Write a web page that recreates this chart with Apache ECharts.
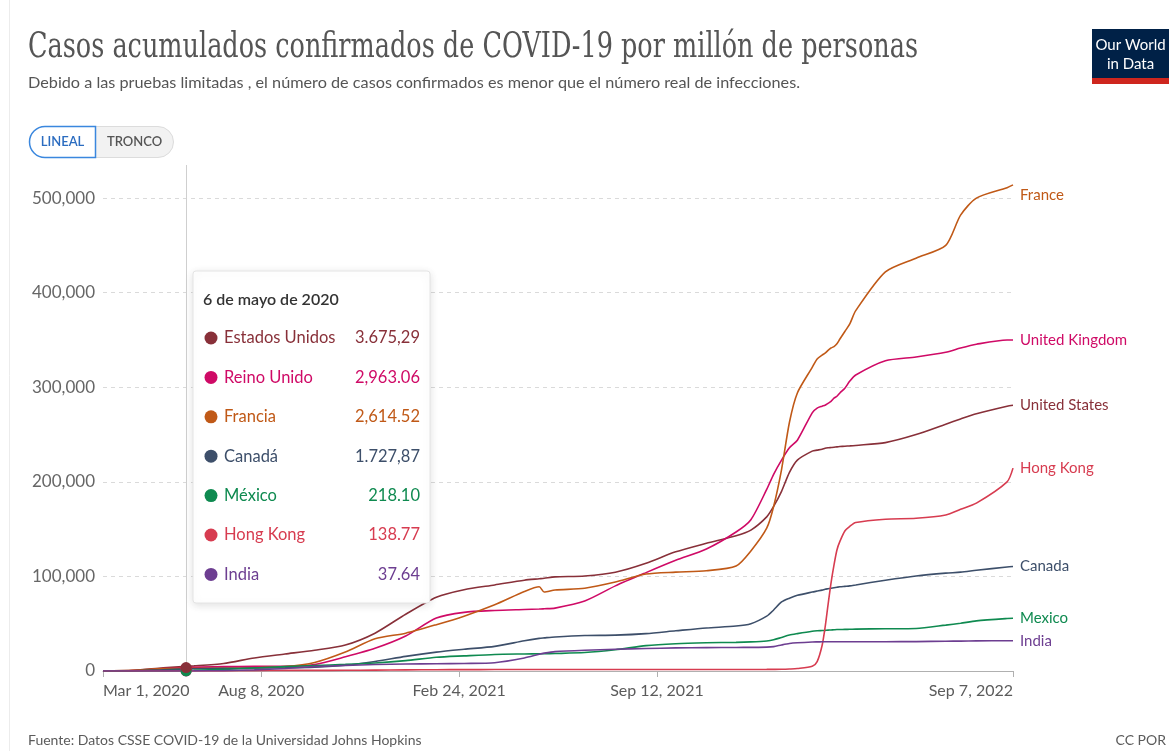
<!DOCTYPE html>
<html><head><meta charset="utf-8">
<script src="https://cdn.jsdelivr.net/npm/echarts@6/dist/echarts.min.js"></script>
<style>html,body{margin:0;padding:0;background:#fff}#c{width:1174px;height:751px}</style>
</head><body><div id="c"></div>
<script>
// ---------------- DATA ----------------
const dates = [
 '2020-03-01','2020-04-01','2020-05-01','2020-06-01','2020-07-01','2020-08-01','2020-09-01','2020-10-01','2020-11-01','2020-12-01',
 '2021-01-01','2021-02-01','2021-03-01','2021-04-01','2021-05-01','2021-05-16','2021-05-21','2021-06-01','2021-07-01','2021-08-01',
 '2021-09-01','2021-10-01','2021-11-01','2021-12-01','2021-12-16',
 '2022-01-01','2022-01-08','2022-01-16','2022-01-24','2022-02-01','2022-02-16','2022-02-21','2022-02-26','2022-03-01','2022-03-04',
 '2022-03-07','2022-03-10','2022-03-13','2022-03-16','2022-03-21','2022-03-26','2022-04-01','2022-05-01','2022-06-01','2022-07-01',
 '2022-07-16','2022-08-01','2022-09-01','2022-09-07'
];
const unitedStates = [
 0,650,3300,5400,8000,13800,18000,22000,27500,40000,
 60000,78000,86000,91000,96000,97500,98000,99500,100500,104500,
 114000,126000,135000,143000,149000,
 163000,174000,190000,210000,223000,232500,233500,234500,235500,236000,
 236300,236600,237000,237300,237700,238000,238500,241500,250000,261000,
 266500,272000,280000,281000
];
const unitedKingdom = [
 0,400,2500,4000,4600,4900,5000,6900,15000,24000,
 37000,56000,62000,64000,65000,65500,65800,66500,74000,90000,
 104000,117000,129000,147000,160000,
 192000,208000,223000,236000,244000,273000,278000,280000,281000,283000,
 285000,288500,290500,294000,299000,306500,313000,328000,332000,337000,
 341500,345500,350000,350000
];
const france = [
 0,800,2500,2800,3100,3400,4600,9000,20000,34000,
 40000,49000,58000,70000,84000,89000,83500,85600,87500,94000,
 102500,104500,106000,111000,127000,
 151000,174000,213000,263000,294000,321000,330000,334000,336000,339000,
 341500,343000,346000,351000,359000,367000,381000,422000,436500,450000,
 482000,500000,511000,514000
];
const canada = [
 0,250,1400,2400,2800,3100,3400,4100,6000,10000,
 15500,20000,23000,26000,32000,34500,35000,36000,37500,37900,
 39500,42500,45500,47500,50000,
 58000,64500,73000,77000,80000,83500,84500,85500,86500,87000,
 87500,88000,88500,89000,89500,90000,91000,96000,100500,103500,
 104500,106500,110000,110500
];
const mexico = [
 0,10,150,750,1750,3200,4600,5800,7000,8500,
 11000,14500,16000,17500,18000,18200,18300,18500,19500,22500,
 26800,28800,29800,30300,30800,
 31800,33000,35500,38000,39500,42000,42500,42800,43000,43200,
 43400,43600,43800,43900,44000,44100,44300,44700,45000,48500,
 50500,53000,55500,55700
];
const hongKong = [
 13,100,137,145,160,430,640,690,715,880,
 1150,1400,1450,1530,1580,1585,1587,1590,1600,1610,
 1620,1625,1630,1640,1650,
 1680,1720,1800,2100,2600,5000,10000,27000,46000,70000,
 93000,112000,128000,137000,148000,153000,157000,160500,161500,165000,
 171000,177500,200000,214500
];
const india = [
 0,1,25,140,430,1200,2700,4600,5900,6800,
 7400,7700,8000,8800,13800,17800,18900,20500,22000,23000,
 23800,24400,24700,24900,25000,
 25200,25800,27500,29000,29800,30700,30800,30850,30900,30930,
 30950,30960,30970,30980,30990,31000,31000,31000,31100,31500,
 31600,31800,32000,32000
];
const seriesNames = ['United States','United Kingdom','France','Canada','Mexico','Hong Kong','India'];
const seriesValues = [unitedStates, unitedKingdom, france, canada, mexico, hongKong, india];
const seriesColors = ['#883039','#CF0A66','#C05917','#3d4f6a','#0f8a50','#D73C50','#6D3E91'];

const tooltipTitle = '6 de mayo de 2020';
const tooltipNames = ['Estados Unidos','Reino Unido','Francia','Canadá','México','Hong Kong','India'];
const tooltipValues = [3675.29, 2963.06, 2614.52, 1727.87, 218.10, 138.77, 37.64];
const tooltipLabels = ['3.675,29','2,963.06','2,614.52','1.727,87','218.10','138.77','37.64'];
const hoverDate = '2020-05-24';

const xTickDates = ['2020-03-01','2020-08-08','2021-02-24','2021-09-12','2022-09-07'];
const xTickLabels = ['Mar 1, 2020','Aug 8, 2020','Feb 24, 2021','Sep 12, 2021','Sep 7, 2022'];
const yInterval = 100000;

const titleText = 'Casos acumulados confirmados de COVID-19 por millón de personas';
const subtitleText = 'Debido a las pruebas limitadas , el número de casos confirmados es menor que el número real de infecciones.';
const sourceText = 'Fuente: Datos CSSE COVID-19 de la Universidad Johns Hopkins';
const licenseText = 'CC POR';

// ---------------- HELPERS ----------------
const startDate = dates[0];
function dayOf(s) {
  const p = s.split('-').map(Number), q = startDate.split('-').map(Number);
  return Math.round((Date.UTC(p[0], p[1]-1, p[2]) - Date.UTC(q[0], q[1]-1, q[2])) / 864e5);
}
const xDays = dates.map(dayOf);
const tickDays = xTickDates.map(dayOf);
const hoverDay = dayOf(hoverDate);

const mctx = document.createElement('canvas').getContext('2d');
function fitScale(text, font, target) { mctx.font = font; return target / mctx.measureText(text).width; }

const FONT = 'Lato, "Noto Sans", sans-serif';
const titleFont = 'normal 36px "DejaVu Serif"';
const subFont = 'normal 16px Lato';

// z order for hover dots (US on top, then Mexico)
const dotZ = [12, 9, 8, 7, 11, 6, 5];

const series = seriesNames.map((name, i) => {
  const s = {
    name, type: 'line', showSymbol: false, symbol: 'none',
    smooth: 0.25,
    data: xDays.map((d, k) => [d, seriesValues[i][k]]),
    lineStyle: { color: seriesColors[i], width: 1.6 },
    itemStyle: { color: seriesColors[i] },
    emphasis: { disabled: true },
    endLabel: {
      show: true, formatter: name, color: seriesColors[i], fontSize: 15,
      fontFamily: FONT, distance: 7, offset: name === 'France' ? [0, 10] : [0, 0]
    },
    markPoint: {
      symbol: 'circle', symbolSize: 11, silent: true, z: dotZ[i],
      itemStyle: { color: seriesColors[i] }, label: { show: false },
      data: [{ coord: [hoverDay, tooltipValues[i]] }]
    }
  };
  if (i === 0) {
    s.markLine = {
      silent: true, symbol: ['none', 'none'], label: { show: false }, z: 1,
      lineStyle: { color: '#cfcfcf', type: 'solid', width: 1 },
      data: [{ xAxis: hoverDay }]
    };
  }
  return s;
});

// tooltip box (static)
const TZ = 100;
const tipChildren = [
  { type: 'rect', z: TZ, shape: { x: 0, y: 0, width: 237, height: 332, r: 3 },
    style: { fill: '#fff', stroke: '#e4e4e4', lineWidth: 1, shadowBlur: 8, shadowColor: 'rgba(0,0,0,0.12)', shadowOffsetY: 2 } },
  { type: 'text', z: TZ + 1, x: 10, y: 29, style: { text: tooltipTitle, font: '600 16px Lato', fill: '#333', verticalAlign: 'middle' } }
];
tooltipNames.forEach((n, i) => {
  const cy = 67 + i * 39.4;
  tipChildren.push({ type: 'circle', z: TZ + 1, shape: { cx: 18, cy, r: 6.5 }, style: { fill: seriesColors[i], stroke: null } });
  tipChildren.push({ type: 'text', z: TZ + 1, x: 31, y: cy, style: { text: n, font: '16.5px Lato', fill: seriesColors[i], verticalAlign: 'middle' } });
  tipChildren.push({ type: 'text', z: TZ + 1, x: 227, y: cy, style: { text: tooltipLabels[i], font: '16.5px Lato', fill: seriesColors[i], verticalAlign: 'middle', align: 'right' } });
});

const graphic = [
  { type: 'line', shape: { x1: 9.5, y1: 0, x2: 9.5, y2: 751 }, style: { stroke: '#ececec', lineWidth: 1 }, silent: true },
  { type: 'text', x: 28, y: 48, scaleX: fitScale(titleText, titleFont, 890), style: { text: titleText, font: titleFont, fill: '#555', verticalAlign: 'middle' } },
  { type: 'text', x: 28, y: 83, scaleX: fitScale(subtitleText, subFont, 772), style: { text: subtitleText, font: subFont, fill: '#555', verticalAlign: 'middle' } },
  // logo
  { type: 'rect', shape: { x: 1092, y: 29, width: 77, height: 50 }, style: { fill: '#002147' } },
  { type: 'rect', shape: { x: 1092, y: 78, width: 77, height: 6 }, style: { fill: '#ce261e' } },
  { type: 'text', x: 1130.5, y: 45, style: { text: 'Our World', font: '15px Lato', fill: '#fff', align: 'center', verticalAlign: 'middle' } },
  { type: 'text', x: 1130.5, y: 64, style: { text: 'in Data', font: '15px Lato', fill: '#fff', align: 'center', verticalAlign: 'middle' } },
  // LINEAL / TRONCO toggle
  { type: 'rect', shape: { x: 29.5, y: 126.5, width: 144, height: 31, r: 15.5 }, style: { fill: '#f2f2f2', stroke: '#dcdcdc', lineWidth: 1 } },
  { type: 'rect', shape: { x: 29.5, y: 126.5, width: 66, height: 31, r: [15.5, 0, 0, 15.5] }, style: { fill: '#fff', stroke: '#3a87de', lineWidth: 1.5 } },
  { type: 'text', x: 62.5, y: 142, style: { text: 'LINEAL', font: '600 13px Lato', fill: '#2b6cc0', align: 'center', verticalAlign: 'middle' } },
  { type: 'text', x: 134.5, y: 142, style: { text: 'TRONCO', font: '600 13px Lato', fill: '#555', align: 'center', verticalAlign: 'middle' } },
  // tooltip
  { type: 'group', x: 193, y: 271, z: TZ, children: tipChildren },
  // footer
  { type: 'text', x: 28, y: 740, style: { text: sourceText, font: '14px Lato', fill: '#5b5b5b', verticalAlign: 'middle' } },
  { type: 'text', x: 1166, y: 740, style: { text: licenseText, font: '14px Lato', fill: '#5b5b5b', align: 'right', verticalAlign: 'middle' } }
];

const option = {
  animation: false,
  backgroundColor: '#fff',
  grid: { left: 103, right: 161, top: 165, bottom: 80, containLabel: false },
  xAxis: {
    type: 'value', min: 0, max: dayOf(xTickDates[xTickDates.length - 1]),
    axisLine: { show: true, lineStyle: { color: '#b0b0b0', width: 1.2 } },
    axisTick: { show: true, customValues: tickDays, length: 6, lineStyle: { color: '#b0b0b0' } },
    axisLabel: {
      customValues: tickDays, color: '#5b5b5b', fontSize: 16, fontFamily: FONT, margin: 12,
      alignMinLabel: 'left', alignMaxLabel: 'right',
      formatter: v => xTickLabels[tickDays.indexOf(Math.round(v))] || ''
    },
    splitLine: { show: false }
  },
  yAxis: {
    type: 'value', min: 0, max: 535000, interval: yInterval,
    axisLine: { show: false }, axisTick: { show: false },
    axisLabel: { color: '#666', fontSize: 17, fontFamily: FONT, margin: 8, showMaxLabel: false,
      formatter: v => (v % yInterval === 0 ? v.toLocaleString('en-US') : '') },
    splitLine: { show: true, showMinLine: false, showMaxLine: false, lineStyle: { color: '#dadada', type: [4, 4], width: 1 } }
  },
  series,
  graphic
};
const chart = echarts.init(document.getElementById('c'), null, { renderer: 'canvas' });
chart.setOption(option);
</script></body></html>
